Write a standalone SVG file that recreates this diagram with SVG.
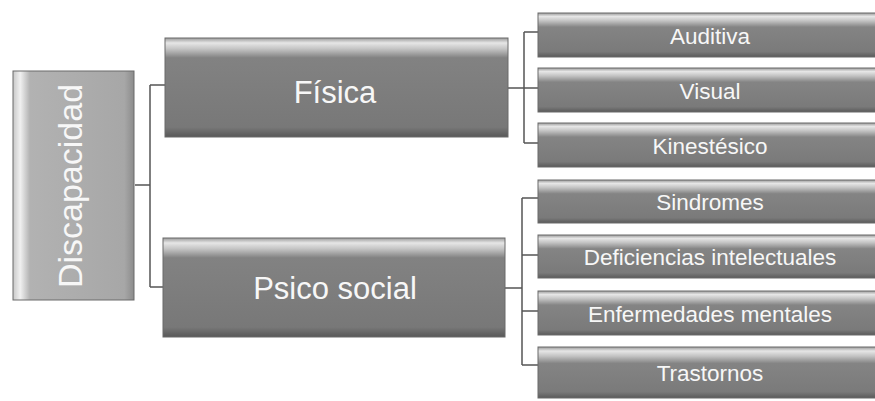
<svg xmlns="http://www.w3.org/2000/svg" width="875" height="401" viewBox="0 0 875 401">
<defs>
<linearGradient id="gDark" x1="0" y1="0" x2="0" y2="1">
<stop offset="0" stop-color="#9a9a9a"/>
<stop offset="0.05" stop-color="#e6e6e6"/>
<stop offset="0.11" stop-color="#c4c4c4"/>
<stop offset="0.2" stop-color="#828282"/>
<stop offset="0.9" stop-color="#787878"/>
<stop offset="1" stop-color="#585858"/>
</linearGradient>
<linearGradient id="gSmall" x1="0" y1="0" x2="0" y2="1">
<stop offset="0" stop-color="#9a9a9a"/>
<stop offset="0.08" stop-color="#e6e6e6"/>
<stop offset="0.18" stop-color="#c2c2c2"/>
<stop offset="0.32" stop-color="#848484"/>
<stop offset="0.88" stop-color="#7a7a7a"/>
<stop offset="1" stop-color="#5a5a5a"/>
</linearGradient>
<linearGradient id="gRoot" x1="0" y1="0" x2="1" y2="0">
<stop offset="0" stop-color="#c8c8c8"/>
<stop offset="0.06" stop-color="#f0f0f0"/>
<stop offset="0.14" stop-color="#b2b2b2"/>
<stop offset="0.92" stop-color="#a7a7a7"/>
<stop offset="1" stop-color="#8c8c8c"/>
</linearGradient>
</defs>
<style>
.box{stroke:#6a6a6a;stroke-width:1}
.big{fill:url(#gDark)}
.small{fill:url(#gSmall)}
.root{fill:url(#gRoot)}
text{font-family:"Liberation Sans","DejaVu Sans",sans-serif;fill:#f7f7f7;text-anchor:middle}
.t1{font-size:31px}
.t2{font-size:22.5px}
.t0{font-size:34px}
.conn{fill:none;stroke:#555;stroke-width:1.5}
</style>
<rect width="875" height="401" fill="#ffffff"/>
<g id="connectors">
<path class="conn" d="M135 185 H150 M150 85 V287 M150 85 H165 M150 287 H164"/>
<path class="conn" d="M508 88 H524 M524 32 V143 M524 32 H539 M524 88 H539 M524 143 H539"/>
<path class="conn" d="M505 288 H522 M522 198 V365 M522 198 H539 M522 255 H539 M522 311 H539 M522 365 H539"/>
</g>
<g id="discapacidad">
<rect class="box root" x="13" y="71" width="121" height="229"/>
<text class="t0" x="82" y="186" transform="rotate(-90 82 186)">Discapacidad</text>
</g>
<g id="fisica">
<rect class="box big" x="165" y="38" width="343" height="99"/>
<text class="t1" x="335" y="103">Física</text>
</g>
<g id="psicosocial">
<rect class="box big" x="163" y="238" width="342" height="99"/>
<text class="t1" x="335" y="299">Psico social</text>
</g>
<g id="auditiva">
<rect class="box small" x="538" y="13" width="345" height="44"/>
<text class="t2" x="710" y="44">Auditiva</text>
</g>
<g id="visual">
<rect class="box small" x="538" y="68" width="345" height="44"/>
<text class="t2" x="710" y="99">Visual</text>
</g>
<g id="kinestesico">
<rect class="box small" x="538" y="123" width="345" height="44"/>
<text class="t2" x="710" y="154">Kinestésico</text>
</g>
<g id="sindromes">
<rect class="box small" x="538" y="180" width="345" height="43"/>
<text class="t2" x="710" y="210">Sindromes</text>
</g>
<g id="deficiencias">
<rect class="box small" x="538" y="235" width="345" height="43"/>
<text class="t2" x="710" y="265">Deficiencias intelectuales</text>
</g>
<g id="enfermedades">
<rect class="box small" x="538" y="291" width="345" height="44"/>
<text class="t2" x="710" y="322">Enfermedades mentales</text>
</g>
<g id="trastornos">
<rect class="box small" x="538" y="347" width="345" height="51"/>
<text class="t2" x="710" y="381">Trastornos</text>
</g>
</svg>
